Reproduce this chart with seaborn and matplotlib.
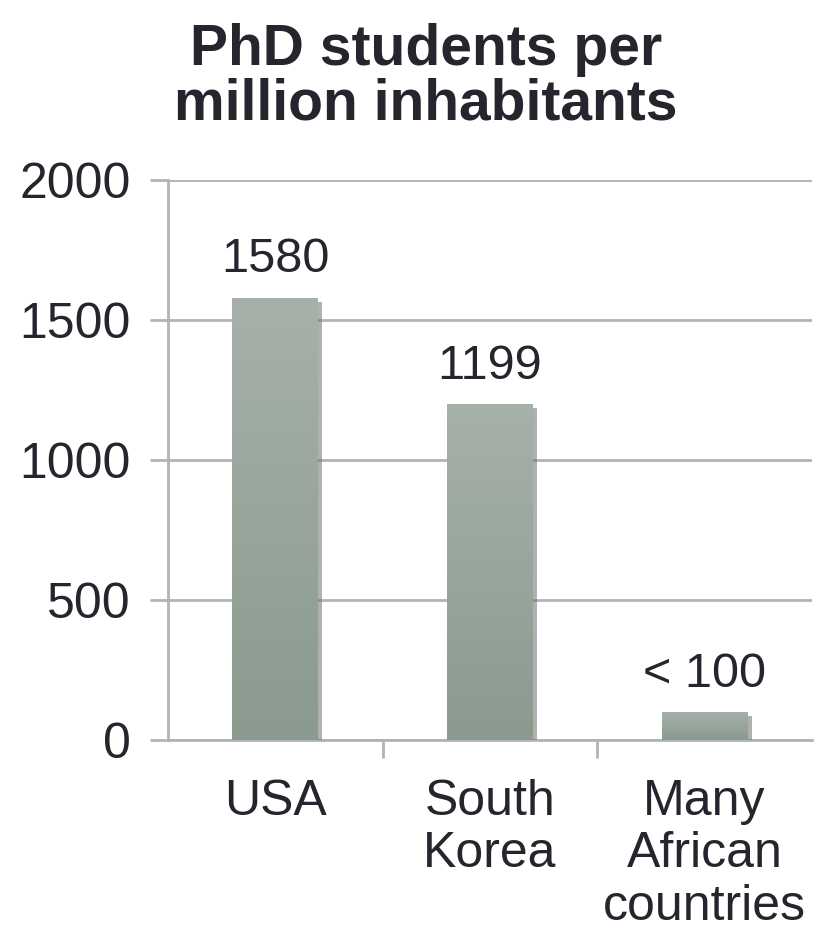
# PhD students per million inhabitants
import matplotlib
matplotlib.use("Agg")
import matplotlib.pyplot as plt
import matplotlib.patheffects as pe
from matplotlib.colors import LinearSegmentedColormap
import numpy as np
import pandas as pd
import seaborn as sb

# Data
countries = ["USA", "South\nKorea", "Many\nAfrican\ncountries"]
phd_per_million = [1580, 1199, 100]
value_labels = ["1580", "1199", "< 100"]

df = pd.DataFrame({"country": countries, "phd": phd_per_million})

sb.set_style("white")
plt.rcParams["font.family"] = ["Liberation Sans", "DejaVu Sans"]
text_col = "#25252d"
grid_col = "#b3b3b3"

fig = plt.figure(figsize=(8.15, 9.32), dpi=100)
ax = fig.add_axes([0.206, 0.206, 0.79, 0.601])

sb.barplot(x="country", y="phd", data=df, color="#96a59a", width=0.4,
           saturation=1, ax=ax, zorder=3)

# gradient fill + soft shadow like the slide
grad = LinearSegmentedColormap.from_list("bar", ["#8a9a8f", "#a6b1a9"])
for p in ax.patches:
    p.set_edgecolor("none")
    p.set_linewidth(0)
    p.set_path_effects([pe.SimplePatchShadow(offset=(3, -3), shadow_rgbFace="#6f6f6f", alpha=0.55),
                        pe.Normal()])
    x0, y0 = p.get_x(), p.get_y()
    w, h = p.get_width(), p.get_height()
    img = ax.imshow(np.linspace(0, 1, 256).reshape(-1, 1), cmap=grad, aspect="auto",
                    origin="lower", extent=(x0, x0 + w, y0, y0 + h), zorder=4)
    img.set_clip_path(p)

for i, (v, lab) in enumerate(zip(phd_per_million, value_labels)):
    ax.text(i, v + 55, lab, ha="center", va="bottom", fontsize=35, color=text_col)

ax.set_ylim(0, 2000)
ax.set_xlim(-0.5, 2.5)
ax.set_yticks([0, 500, 1000, 1500, 2000])
ax.yaxis.grid(True, color=grid_col, linewidth=2, zorder=0)
ax.set_axisbelow(True)
for s in ["top", "right"]:
    ax.spines[s].set_visible(False)
ax.spines["left"].set_color(grid_col)
ax.spines["left"].set_linewidth(2)
ax.spines["bottom"].set_color(grid_col)
ax.spines["bottom"].set_linewidth(2)

ax.set_xticks([0.5, 1.5], minor=True)
ax.tick_params(axis="x", which="major", bottom=False, length=0, pad=28, labelsize=36,
               labelcolor=text_col)
ax.tick_params(axis="x", which="minor", bottom=True, length=13, width=2, color=grid_col,
               direction="out")
ax.tick_params(axis="y", left=True, length=13, width=2, color=grid_col, direction="out", pad=14,
               labelsize=36, labelcolor=text_col)
for t in ax.get_xticklabels():
    t.set_linespacing(1.18)
ax.set_xlabel("")
ax.set_ylabel("")

fig.suptitle("PhD students per\nmillion inhabitants", x=0.523, y=0.975, fontsize=41,
             fontweight="bold", color=text_col, linespacing=1.0)

plt.savefig("out.png", dpi=100)
